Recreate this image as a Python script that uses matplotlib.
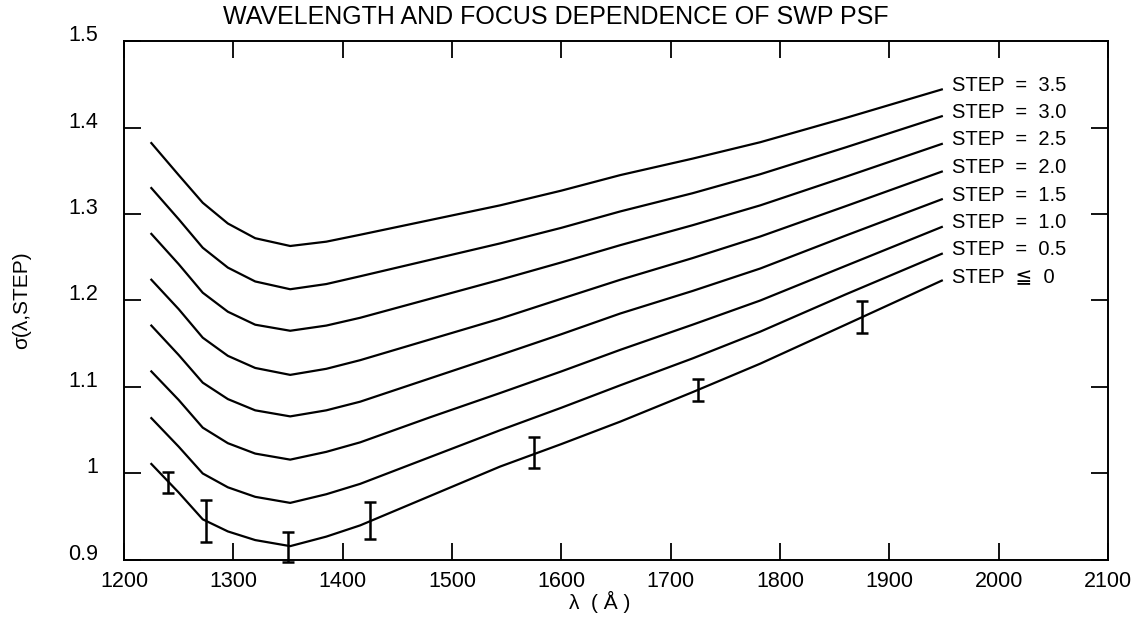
import matplotlib
matplotlib.use("Agg")
import matplotlib.pyplot as plt

plt.rcParams['font.family'] = ['Liberation Sans', 'DejaVu Sans']

# Wavelength grid (Angstrom) at which each focus curve is tabulated
wavelength = [1225, 1250, 1272, 1295, 1320, 1352, 1385, 1416, 1480,
              1544, 1600, 1654, 1720, 1782, 1860, 1948]

# PSF width sigma(lambda, STEP) for each focus step
sigma_35 = [1.382, 1.345, 1.313, 1.289, 1.272, 1.263, 1.268, 1.276, 1.293,
            1.310, 1.327, 1.345, 1.364, 1.383, 1.411, 1.444]
sigma_30 = [1.330, 1.294, 1.261, 1.238, 1.222, 1.213, 1.219, 1.228, 1.247,
            1.266, 1.284, 1.303, 1.324, 1.346, 1.377, 1.413]
sigma_25 = [1.277, 1.242, 1.209, 1.187, 1.172, 1.165, 1.171, 1.180, 1.202,
            1.224, 1.244, 1.264, 1.287, 1.310, 1.343, 1.381]
sigma_20 = [1.224, 1.190, 1.157, 1.136, 1.122, 1.114, 1.121, 1.131, 1.155,
            1.179, 1.202, 1.224, 1.249, 1.274, 1.309, 1.349]
sigma_15 = [1.171, 1.137, 1.105, 1.086, 1.073, 1.066, 1.073, 1.083, 1.110,
            1.137, 1.161, 1.185, 1.211, 1.237, 1.275, 1.317]
sigma_10 = [1.118, 1.085, 1.053, 1.035, 1.023, 1.016, 1.025, 1.036, 1.065,
            1.093, 1.118, 1.143, 1.172, 1.200, 1.240, 1.285]
sigma_05 = [1.064, 1.031, 1.000, 0.984, 0.973, 0.966, 0.976, 0.988, 1.019,
            1.050, 1.076, 1.102, 1.133, 1.164, 1.207, 1.254]
sigma_00 = [1.011, 0.978, 0.947, 0.933, 0.923, 0.916, 0.927, 0.940, 0.974,
            1.008, 1.034, 1.060, 1.094, 1.127, 1.172, 1.223]

curves = [sigma_35, sigma_30, sigma_25, sigma_20,
          sigma_15, sigma_10, sigma_05, sigma_00]
curve_labels = ["STEP  =  3.5", "STEP  =  3.0", "STEP  =  2.5", "STEP  =  2.0",
                "STEP  =  1.5", "STEP  =  1.0", "STEP  =  0.5", "STEP  \u2266  0"]

# Measured widths with uncertainties
meas_wave = [1240, 1275, 1350, 1425, 1575, 1725, 1875]
meas_sigma = [0.990, 0.945, 0.915, 0.9455, 1.024, 1.0965, 1.1805]
meas_err = [0.012, 0.024, 0.017, 0.0215, 0.018, 0.0125, 0.0185]

x_ticks = [1200, 1300, 1400, 1500, 1600, 1700, 1800, 1900, 2000, 2100]
y_ticks = [0.9, 1.0, 1.1, 1.2, 1.3, 1.4, 1.5]
y_tick_labels = ["0.9", "1", "1.1", "1.2", "1.3", "1.4", "1.5"]

fig = plt.figure(figsize=(11.42, 6.27), dpi=100)
ax = fig.add_axes([0.1086, 0.1069, 0.8616, 0.8277])

for vals, lab in zip(curves, curve_labels):
    ax.plot(wavelength, vals, color="black", linewidth=1.6,
            solid_joinstyle="round")
    ax.annotate(lab, xy=(wavelength[-1], vals[-1]), xytext=(7, 3),
                textcoords="offset points", ha="left", va="center",
                fontsize=14.5, color="black", annotation_clip=False)

ax.errorbar(meas_wave, meas_sigma, yerr=meas_err, fmt="none",
            ecolor="black", elinewidth=1.8, capsize=4, capthick=1.8,
            clip_on=False)

ax.set_xlim(1200, 2100)
ax.set_ylim(0.9, 1.5)
ax.set_xticks(x_ticks)
ax.set_xticklabels([str(t) for t in x_ticks])
ax.set_yticks(y_ticks)
ax.set_yticklabels(y_tick_labels)

ax.tick_params(axis="both", which="major", direction="in", length=12.5,
               width=1.3, top=True, right=True, labelsize=15.5, color="black")
ax.tick_params(axis="x", pad=8)
ax.tick_params(axis="y", pad=18.5)
for lbl in ax.get_yticklabels():
    lbl.set_verticalalignment("baseline")

for sp in ax.spines.values():
    sp.set_linewidth(1.4)
    sp.set_color("black")

fig.text(0.487, 1 - 17 / 627, "WAVELENGTH AND FOCUS DEPENDENCE OF SWP PSF",
         ha="center", va="center", fontsize=18)
fig.text(0.525, 1 - 602 / 627, "\u03bb  ( \u00c5 )", ha="center",
         va="center", fontsize=15)
fig.text(22 / 1142, 1 - 300 / 627, "\u03c3(\u03bb,STEP)", ha="center",
         va="center", rotation=90, fontsize=15)

fig.savefig("out.png", dpi=100, facecolor="white")
